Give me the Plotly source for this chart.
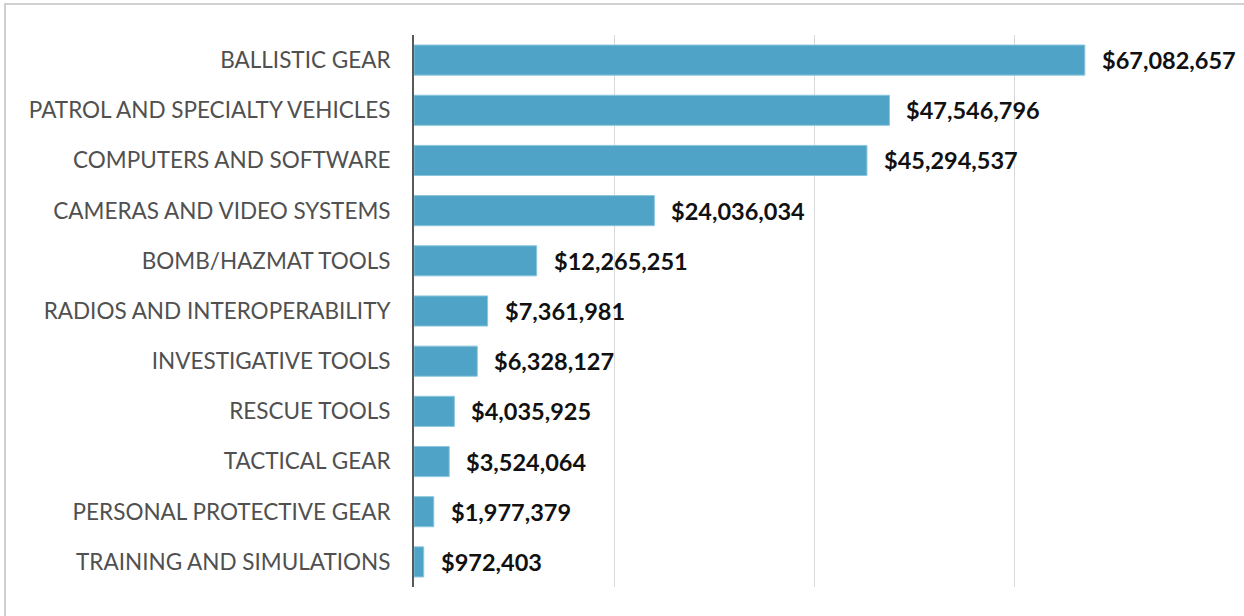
import plotly.graph_objects as go

categories = [
    "BALLISTIC GEAR",
    "PATROL AND SPECIALTY VEHICLES",
    "COMPUTERS AND SOFTWARE",
    "CAMERAS AND VIDEO SYSTEMS",
    "BOMB/HAZMAT TOOLS",
    "RADIOS AND INTEROPERABILITY",
    "INVESTIGATIVE TOOLS",
    "RESCUE TOOLS",
    "TACTICAL GEAR",
    "PERSONAL PROTECTIVE GEAR",
    "TRAINING AND SIMULATIONS",
]
values = [67082657, 47546796, 45294537, 24036034, 12265251, 7361981,
          6328127, 4035925, 3524064, 1977379, 972403]
labels = ["${:,}".format(v) for v in values]

fig = go.Figure(go.Bar(
    x=values, y=categories, orientation="h",
    marker=dict(color="#4FA3C6", line=dict(width=1, color="#8CC6DD")),
    hoverinfo="skip",
))

for c, v, t in zip(categories, values, labels):
    fig.add_annotation(x=v, y=c, text="<b>" + t + "</b>", showarrow=False,
                       xanchor="left", xshift=15,
                       font=dict(family="Lato", size=23.5, color="#111111"))

W, H = 1244, 616
L, R, T, B = 414, 30, 35, 29
pw, ph = W - L - R, H - T - B
fig.add_shape(type="rect", xref="paper", yref="paper",
              x0=(5 - L) / pw, x1=(1300 - L) / pw,
              y0=-(60) / ph, y1=(H - B - 4) / ph,
              line=dict(color="#d0d0d0", width=2), layer="below")

fig.update_layout(
    width=W, height=H,
    margin=dict(l=L, r=R, t=T, b=B),
    paper_bgcolor="white", plot_bgcolor="white",
    bargap=0.4, showlegend=False,
    font=dict(family="Lato", size=22, color="#505050"),
    xaxis=dict(range=[0, 80000000], dtick=20000000, showgrid=True,
               gridcolor="#d9d9d9", gridwidth=1, showticklabels=False,
               zeroline=False, showline=False, fixedrange=True),
    yaxis=dict(autorange="reversed", showline=True, linecolor="#595959",
               linewidth=2, ticks="", ticklabelstandoff=17, fixedrange=True,
               tickfont=dict(family="Lato", size=22.5, color="#505050")),
)

fig.write_html("out.html", config={"displayModeBar": False},
               post_script="document.body.style.margin='0px';")
